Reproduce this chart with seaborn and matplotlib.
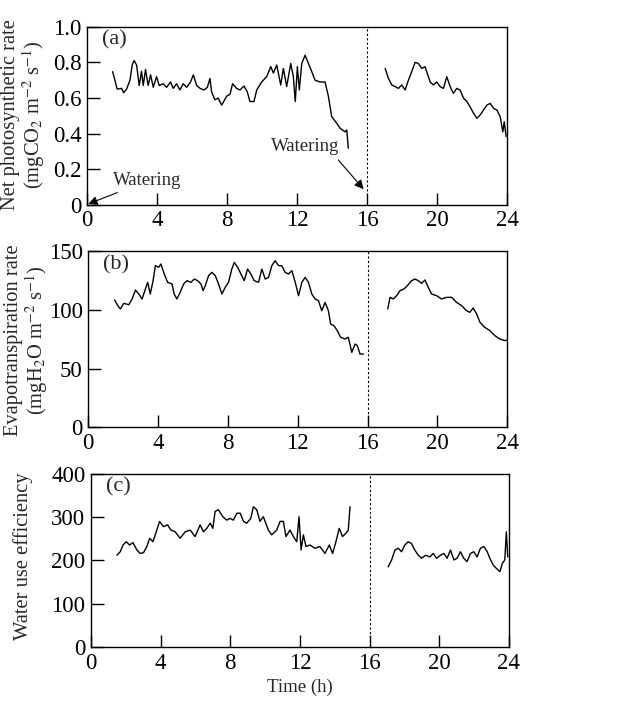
import numpy as np
import pandas as pd
import seaborn as sns
import matplotlib.pyplot as plt
from matplotlib.ticker import FixedLocator, FixedFormatter

# DATA
# (a) net photosynthetic rate, before and after the second watering
a1_t = [1.47, 1.6, 1.73, 1.98, 2.1, 2.27, 2.46, 2.6, 2.7, 2.84, 2.99, 3.12, 3.22, 3.35, 3.5, 3.64,
        3.79, 3.98, 4.13, 4.36, 4.55, 4.78, 4.93, 5.12, 5.31, 5.5, 5.7, 5.92, 6.08, 6.27, 6.46, 6.69,
        6.88, 7.03, 7.12, 7.31, 7.5, 7.7, 7.98, 8.17, 8.32, 8.55, 8.74, 8.97, 9.16, 9.31, 9.54, 9.7,
        9.98, 10.27, 10.5, 10.65, 10.84, 11.07, 11.22, 11.41, 11.64, 11.79, 11.9, 12.02, 12.13, 12.27,
        12.46, 12.65, 12.84, 13.03, 13.31, 13.6, 13.79, 13.98, 14.27, 14.46, 14.74, 14.84, 14.93]
a1_v = [0.748, 0.70, 0.65, 0.654, 0.63, 0.65, 0.70, 0.79, 0.81, 0.785, 0.67, 0.75, 0.67, 0.76, 0.67, 0.73,
        0.66, 0.72, 0.67, 0.68, 0.66, 0.69, 0.654, 0.68, 0.645, 0.68, 0.66, 0.69, 0.73, 0.67, 0.654, 0.645,
        0.66, 0.71, 0.635, 0.59, 0.60, 0.56, 0.61, 0.62, 0.68, 0.654, 0.645, 0.667, 0.635, 0.58, 0.58, 0.645,
        0.69, 0.72, 0.776, 0.74, 0.785, 0.673, 0.766, 0.664, 0.794, 0.72, 0.58, 0.776, 0.645, 0.794,
        0.84, 0.794, 0.748, 0.70, 0.69, 0.69, 0.61, 0.495, 0.458, 0.43, 0.41, 0.42, 0.318]
a2_t = [17.03, 17.22, 17.41, 17.6, 17.79, 17.98, 18.17, 18.36, 18.55, 18.74, 18.93, 19.12, 19.31, 19.6,
        19.79, 19.98, 20.17, 20.36, 20.55, 20.74, 20.93, 21.12, 21.31, 21.5, 21.7, 21.88, 22.08, 22.27,
        22.46, 22.65, 22.84, 23.03, 23.22, 23.41, 23.6, 23.75, 23.83, 23.94]
a2_v = [0.766, 0.71, 0.673, 0.664, 0.654, 0.673, 0.645, 0.70, 0.748, 0.80, 0.794, 0.766, 0.776, 0.69,
        0.673, 0.69, 0.664, 0.654, 0.72, 0.664, 0.626, 0.654, 0.645, 0.60, 0.58, 0.55, 0.514, 0.486,
        0.505, 0.533, 0.56, 0.57, 0.542, 0.533, 0.495, 0.41, 0.467, 0.383]

# (b) evapotranspiration rate
b1_t = [1.52, 1.7, 1.85, 2.04, 2.33, 2.52, 2.71, 2.9, 3.09, 3.28, 3.41, 3.56, 3.72, 3.85, 4.04, 4.17,
        4.36, 4.55, 4.8, 4.93, 5.08, 5.27, 5.47, 5.66, 5.89, 6.08, 6.27, 6.46, 6.58, 6.71, 6.9, 7.09,
        7.28, 7.47, 7.66, 7.85, 8.04, 8.23, 8.37, 8.56, 8.75, 8.94, 9.13, 9.32, 9.51, 9.76, 9.95, 10.14,
        10.33, 10.52, 10.71, 10.9, 11.09, 11.28, 11.47, 11.67, 11.86, 12.05, 12.24, 12.43, 12.62, 12.81,
        13.0, 13.19, 13.38, 13.57, 13.76, 13.89, 14.08, 14.27, 14.46, 14.71, 14.9, 15.1, 15.29, 15.42,
        15.57, 15.76]
b1_v = [108.5, 103.7, 100.9, 105.7, 104.5, 109.4, 117, 113.6, 109.4, 117.9, 123.6, 113.6, 125, 137.8,
        136.4, 139.2, 130.7, 123.6, 122.2, 113.6, 109.4, 115, 122.2, 125, 123.6, 126.4, 125, 122.2,
        116.5, 120.7, 129.3, 132.1, 129.3, 122.2, 113.6, 119.3, 123.6, 134.9, 140.6, 136.4, 130.7, 125,
        134.9, 130.7, 125, 123.6, 134.9, 126.4, 127.8, 137.8, 142, 137.8, 137.8, 132.1, 130.7, 133.5,
        123.6, 112.2, 123.6, 127.8, 123.6, 113.6, 109.4, 108, 99.4, 106.5, 99.4, 88, 86.6, 82.4, 76.7,
        75.3, 76.7, 63.9, 71, 69.6, 62.5, 62.5]
b2_t = [17.16, 17.29, 17.48, 17.67, 17.86, 18.09, 18.28, 18.53, 18.72, 18.91, 19.1, 19.29, 19.48, 19.67,
        19.96, 20.24, 20.53, 20.82, 21.1, 21.39, 21.67, 21.86, 22.05, 22.25, 22.44, 22.72, 23.01, 23.3,
        23.58, 23.87, 24.0]
b2_v = [100.9, 110.8, 109.4, 112.2, 116.5, 117.9, 120.7, 125, 126.4, 125, 122.7, 125.6, 119.3, 113.6,
        112.2, 109.4, 110.8, 110.8, 106.5, 103.7, 99.4, 98, 101.7, 96.6, 89.5, 85.2, 82.4, 78.1, 75.3,
        73.9, 74.4]

# (c) water use efficiency
c1_t = [1.49, 1.68, 1.84, 2.03, 2.22, 2.41, 2.64, 2.83, 3.02, 3.21, 3.37, 3.56, 3.75, 3.94, 4.17, 4.4,
        4.59, 4.84, 5.12, 5.41, 5.7, 5.98, 6.27, 6.46, 6.65, 6.85, 7.0, 7.13, 7.32, 7.57, 7.8, 7.99, 8.18,
        8.38, 8.57, 8.76, 8.95, 9.18, 9.33, 9.52, 9.71, 9.9, 10.19, 10.38, 10.67, 10.86, 11.05, 11.2,
        11.43, 11.63, 11.82, 11.95, 12.07, 12.2, 12.35, 12.58, 12.87, 13.15, 13.44, 13.69, 13.88, 14.07,
        14.26, 14.45, 14.65, 14.78, 14.88]
c1_v = [212, 220, 235.5, 243, 235.5, 241, 224, 216, 218, 232, 251, 243, 266, 290, 278, 282, 270, 266,
        251, 266, 270, 255, 282, 266, 274, 286, 274, 313, 317, 301, 293, 297, 293, 309, 309, 290, 286,
        297, 324, 317, 290, 301, 270, 259, 270, 290, 290, 255, 270, 255, 243, 301, 224, 259, 232, 235.5,
        228, 232, 216, 235.5, 216, 243, 274, 255, 263, 270, 324]
c2_t = [17.07, 17.27, 17.46, 17.65, 17.84, 18.03, 18.22, 18.41, 18.6, 18.8, 18.99, 19.23, 19.46, 19.66,
        19.85, 20.08, 20.27, 20.46, 20.65, 20.85, 21.03, 21.22, 21.41, 21.6, 21.8, 21.99, 22.18, 22.37,
        22.57, 22.76, 22.91, 23.11, 23.3, 23.49, 23.63, 23.77, 23.86, 23.94]
c2_v = [185, 201, 224, 228, 220, 235.5, 243, 239, 224, 212, 205, 212, 208, 216, 205, 212, 216, 205, 224,
        201, 205, 220, 205, 197, 216, 220, 208, 228, 232, 220, 205, 189, 181, 174, 193, 201, 266, 208]

x_ticks = [0, 4, 8, 12, 16, 20, 24]
a_ticks = [0, 0.2, 0.4, 0.6, 0.8, 1.0]
a_tick_labels = ["0", "0.2", "0.4", "0.6", "0.8", "1.0"]
b_ticks = [0, 50, 100, 150]
c_ticks = [0, 100, 200, 300, 400]
panel_tags = ["(a)", "(b)", "(c)"]
y_labels = ["Net photosynthetic rate\n(mgCO$_2$ m$^{-2}$ s$^{-1}$)",
            "Evapotranspiration rate\n(mgH$_2$O m$^{-2}$ s$^{-1}$)",
            "Water use efficiency"]

sns.set_style("ticks")
plt.rcParams["font.family"] = ["Liberation Serif", "DejaVu Serif"]
plt.rcParams["mathtext.fontset"] = "stix"

fig = plt.figure(figsize=(6.34, 7.04), dpi=100)
ax_a = fig.add_axes([0.137, 0.709, 0.663, 0.253])
ax_b = fig.add_axes([0.139, 0.393, 0.661, 0.250])
ax_c = fig.add_axes([0.1435, 0.081, 0.659, 0.246])

panels = [
    (ax_a, [(a1_t, a1_v), (a2_t, a2_v)], a_ticks, 1.0, (-0.095, 0.506), 0.08),
    (ax_b, [(b1_t, b1_v), (b2_t, b2_v)], b_ticks, 150, (-0.091, 0.494), 0.0),
    (ax_c, [(c1_t, c1_v), (c2_t, c2_v)], c_ticks, 400, (-0.139, 0.526), 0.0),
]

for i, (ax, segs, yt, ytop, lab_xy, dash_lo) in enumerate(panels):
    for t, v in segs:
        df = pd.DataFrame({"t": t, "v": v})
        sns.lineplot(data=df, x="t", y="v", ax=ax, color="black", lw=1.0, sort=False)
    ax.set_xlim(0, 24)
    ax.set_ylim(0, ytop)
    ax.xaxis.set_major_locator(FixedLocator(x_ticks))
    ax.yaxis.set_major_locator(FixedLocator(yt))
    ax.tick_params(direction="in", length=9, width=1, labelsize=16.5, pad=4,
                   top=False, right=False, colors="black")
    for sp in ax.spines.values():
        sp.set_linewidth(1)
        sp.set_color("black")
    ax.set_xlabel("")
    ax.set_ylabel(y_labels[i], fontsize=14.8, linespacing=1.0)
    ax.yaxis.set_label_coords(*lab_xy)
    ax.text(0.85, 0.925 * ytop, panel_tags[i], fontsize=16, va="center", ha="left")
    # second watering marker
    ax.plot([16, 16], [dash_lo * ytop, ytop], color="black", lw=0.8, ls=(0, (2, 2)))

ax_a.yaxis.set_major_formatter(FixedFormatter(a_tick_labels))
ax_c.set_xlabel("Time (h)", fontsize=13.5)

ax_a.annotate("Watering", xy=(0.08, 0.005), xytext=(1.5, 0.135), fontsize=13.5,
              ha="left", va="center",
              arrowprops=dict(arrowstyle="-|>", color="black", lw=0.8, shrinkA=0, shrinkB=0))
ax_a.annotate("Watering", xy=(15.8, 0.088), xytext=(10.5, 0.33), fontsize=13.5,
              ha="left", va="center",
              arrowprops=dict(arrowstyle="-|>", color="black", lw=0.8, shrinkA=2, shrinkB=0,
                              relpos=(0.92, 0.0)))

fig.savefig("out.png", dpi=100)
